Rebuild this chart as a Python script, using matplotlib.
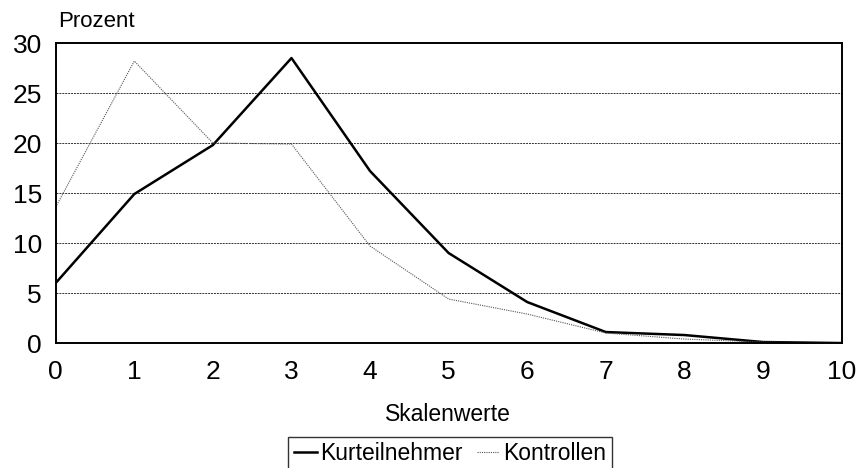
import numpy as np
import matplotlib.pyplot as plt

plt.rcParams['font.family'] = ['Liberation Sans', 'DejaVu Sans']

skalenwerte = [0, 1, 2, 3, 4, 5, 6, 7, 8, 9, 10]
kurteilnehmer = [6.0, 14.9, 19.8, 28.5, 17.2, 9.0, 4.1, 1.1, 0.8, 0.1, 0.0]
kontrollen = [13.6, 28.2, 20.0, 19.9, 9.7, 4.4, 2.9, 1.0, 0.4, 0.1, 0.0]

fig = plt.figure(figsize=(8.57, 4.68), dpi=100)
ax = fig.add_axes([0.065, 0.267, 0.917, 0.641])

ax.plot(skalenwerte, kurteilnehmer, color='black', lw=1.8, label='Kurteilnehmer')
ax.plot(skalenwerte, kontrollen, color='#555555', lw=0.8, ls=(0, (1, 1)), label='Kontrollen')

ax.set_xlim(0, 10)
ax.set_ylim(0, 30)
ax.set_xticks(range(0, 11))
ax.set_yticks(range(0, 31, 5))
ax.tick_params(length=0, labelsize=19)
ax.tick_params(axis='x', pad=12)
ax.tick_params(axis='y', pad=10)
for y in [5, 10, 15, 20, 25]:
    ax.axhline(y, color='#333333', lw=0.7, ls=(0, (2, 1)), zorder=0)
for s in ax.spines.values():
    s.set_linewidth(1.4)

fig.text(0.068, 0.955, 'Prozent', fontsize=16, va='center', ha='left')
fig.text(0.523, 0.115, 'Skalenwerte', fontsize=16.5, va='center', ha='center')

leg = fig.legend(loc='center', bbox_to_anchor=(0.525, 0.03), ncol=2, fontsize=16.5,
                 frameon=True, fancybox=False, edgecolor='black', handlelength=1.0,
                 handletextpad=0.15, columnspacing=0.6, borderpad=0.25)
leg.get_frame().set_linewidth(1.0)

fig.savefig('out.png', dpi=100)
